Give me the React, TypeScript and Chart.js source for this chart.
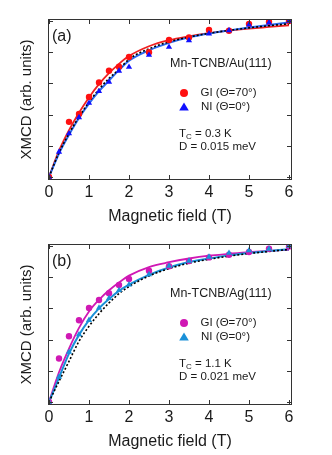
import React, { useEffect, useRef } from "react";
import { Chart, registerables } from "chart.js";
Chart.register(...registerables);

// ---------- data ----------
const X_TICKS = [0, 1, 2, 3, 4, 5, 6];
const Y_TICKS = [0, 0.2, 0.4, 0.6, 0.8, 1.0];

const FIT_X = [0, 0.25, 0.5, 0.75, 1, 1.25, 1.5, 1.75, 2, 2.5, 3, 3.5, 4, 4.5, 5, 5.5, 6];

// Panel (a): Mn-TCNB/Au(111)
const A_GI_X = [0, 0.5, 0.75, 1, 1.25, 1.5, 1.75, 2, 2.5, 3, 3.5, 4, 4.5, 5, 5.5, 6];
const A_GI_Y = [0, 0.353, 0.404, 0.513, 0.606, 0.681, 0.707, 0.769, 0.8, 0.878, 0.895, 0.942, 0.938, 0.982, 0.995, 1.0];
const A_NI_X = [0, 0.25, 0.5, 0.75, 1, 1.25, 1.5, 1.75, 2, 2.5, 3, 3.5, 4, 4.5, 5, 5.5, 6];
const A_NI_Y = [0, 0.16, 0.278, 0.382, 0.474, 0.549, 0.609, 0.68, 0.705, 0.782, 0.833, 0.876, 0.919, 0.94, 0.976, 0.99, 1.0];
const A_GI_FIT = [0, 0.168, 0.3, 0.412, 0.51, 0.595, 0.665, 0.725, 0.775, 0.838, 0.877, 0.902, 0.922, 0.938, 0.951, 0.962, 0.973];
const A_NI_FIT = [0, 0.15, 0.27, 0.378, 0.47, 0.55, 0.618, 0.685, 0.745, 0.812, 0.86, 0.895, 0.92, 0.94, 0.958, 0.975, 0.99];
const A_ISO_FIT = [0, 0.155, 0.278, 0.385, 0.48, 0.562, 0.632, 0.69, 0.755, 0.822, 0.866, 0.897, 0.921, 0.94, 0.956, 0.97, 0.982];

// Panel (b): Mn-TCNB/Ag(111)
const B_GI_X = [0, 0.25, 0.5, 0.75, 1, 1.25, 1.5, 1.75, 2, 2.5, 3, 3.5, 4, 4.5, 5, 5.5, 6];
const B_GI_Y = [0, 0.278, 0.421, 0.524, 0.603, 0.654, 0.697, 0.75, 0.788, 0.842, 0.87, 0.904, 0.927, 0.944, 0.962, 0.983, 0.996];
const B_NI_X = [0, 0.25, 0.5, 0.75, 1, 1.25, 1.5, 1.75, 2, 2.5, 3, 3.5, 4, 4.5, 5, 5.5, 6];
const B_NI_Y = [0, 0.16, 0.32, 0.432, 0.524, 0.603, 0.665, 0.716, 0.752, 0.818, 0.872, 0.905, 0.93, 0.955, 0.972, 0.982, 1.0];
const B_GI_FIT = [0, 0.19, 0.342, 0.475, 0.58, 0.655, 0.716, 0.766, 0.81, 0.865, 0.896, 0.92, 0.938, 0.95, 0.961, 0.969, 0.976];
const B_NI_FIT = [0, 0.155, 0.31, 0.43, 0.525, 0.6, 0.66, 0.712, 0.752, 0.815, 0.862, 0.897, 0.92, 0.94, 0.955, 0.968, 0.98];
const B_ISO_FIT = [0, 0.132, 0.26, 0.389, 0.485, 0.566, 0.635, 0.694, 0.74, 0.808, 0.855, 0.89, 0.915, 0.935, 0.952, 0.965, 0.978];

const FONT = "'Liberation Sans', Arial, Helvetica, sans-serif";
const TXT = "#1a1a1a";

const pts = (xs: number[], ys: number[]) => xs.map((x, i) => ({ x, y: ys[i] }));

type Panel = {
  label: string;
  sample: string;
  tc: string;
  d: string;
  giColor: string;
  giLine: string;
  niColor: string;
  niLine: string;
  gi: { x: number; y: number }[];
  ni: { x: number; y: number }[];
  giFit: { x: number; y: number }[];
  niFit: { x: number; y: number }[];
  isoFit: { x: number; y: number }[];
  dy: number;
};

const PANELS: Panel[] = [
  {
    label: "(a)",
    sample: "Mn-TCNB/Au(111)",
    tc: " = 0.3 K",
    d: "D = 0.015 meV",
    giColor: "#ff1010",
    giLine: "#f02020",
    niColor: "#1010ff",
    niLine: "#2a6af0",
    gi: pts(A_GI_X, A_GI_Y),
    ni: pts(A_NI_X, A_NI_Y),
    giFit: pts(FIT_X, A_GI_FIT),
    niFit: pts(FIT_X, A_NI_FIT),
    isoFit: pts(FIT_X, A_ISO_FIT),
    dy: 0,
  },
  {
    label: "(b)",
    sample: "Mn-TCNB/Ag(111)",
    tc: " = 1.1 K",
    d: "D = 0.021 meV",
    giColor: "#d018b4",
    giLine: "#d018b4",
    niColor: "#1a90d8",
    niLine: "#1a90d8",
    gi: pts(B_GI_X, B_GI_Y),
    ni: pts(B_NI_X, B_NI_Y),
    giFit: pts(FIT_X, B_GI_FIT),
    niFit: pts(FIT_X, B_NI_FIT),
    isoFit: pts(FIT_X, B_ISO_FIT),
    dy: 5,
  },
];

function makePlugin(p: Panel) {
  return {
    id: "frameAndText",
    afterDatasetsDraw(chart: any) {
      const { ctx, chartArea: a, scales } = chart;
      const x = scales.x;
      const y = scales.y;
      ctx.save();
      // frame
      ctx.strokeStyle = "#333";
      ctx.lineWidth = 1;
      ctx.strokeRect(a.left + 0.5, a.top + 0.5, a.right - a.left - 1, a.bottom - a.top - 1);
      // inward ticks on all four sides
      const L = 5;
      ctx.beginPath();
      for (const v of X_TICKS) {
        const px = Math.round(x.getPixelForValue(v)) + 0.5;
        ctx.moveTo(px, a.bottom);
        ctx.lineTo(px, a.bottom - L);
        ctx.moveTo(px, a.top);
        ctx.lineTo(px, a.top + L);
      }
      for (const v of Y_TICKS) {
        const py = Math.round(y.getPixelForValue(v)) + 0.5;
        ctx.moveTo(a.left, py);
        ctx.lineTo(a.left + L, py);
        ctx.moveTo(a.right, py);
        ctx.lineTo(a.right - L, py);
      }
      ctx.stroke();

      // texts
      ctx.fillStyle = TXT;
      ctx.textBaseline = "middle";
      ctx.textAlign = "left";
      ctx.font = `16px ${FONT}`;
      ctx.fillText(p.label, a.left + 4, a.top + 18);

      const dy = p.dy;
      ctx.font = `12.5px ${FONT}`;
      ctx.fillText(p.sample, a.left + 122, a.top + 44.5 + dy);

      ctx.font = `11.5px ${FONT}`;
      // legend
      const mx = a.left + 136;
      ctx.fillStyle = p.giColor;
      ctx.beginPath();
      ctx.arc(mx, a.top + 74 + dy, 4, 0, Math.PI * 2);
      ctx.fill();
      ctx.fillStyle = p.niColor;
      const ty = a.top + 88 + dy;
      ctx.beginPath();
      ctx.moveTo(mx, ty - 4.5);
      ctx.lineTo(mx + 4.8, ty + 3.5);
      ctx.lineTo(mx - 4.8, ty + 3.5);
      ctx.closePath();
      ctx.fill();
      ctx.fillStyle = TXT;
      ctx.fillText("GI (\u0398=70\u00b0)", a.left + 152.5, a.top + 74 + dy);
      ctx.fillText("NI (\u0398=0\u00b0)", a.left + 153, a.top + 88 + dy);

      // Tc and D
      const tx = a.left + 131;
      const tcy = a.top + 114.5 + dy;
      ctx.fillText("T", tx, tcy);
      const tw = ctx.measureText("T").width;
      ctx.font = `8px ${FONT}`;
      ctx.fillText("C", tx + tw, tcy + 3.5);
      const cw = ctx.measureText("C").width;
      ctx.font = `11.5px ${FONT}`;
      ctx.fillText(p.tc, tx + tw + cw, tcy);
      ctx.fillText(p.d, tx, a.top + 128 + dy);
      ctx.restore();
    },
  };
}

function PanelChart({ p, top }: { p: Panel; top: number }) {
  const ref = useRef<HTMLCanvasElement>(null);
  useEffect(() => {
    if (!ref.current) return;
    const chart = new Chart(ref.current, {
      type: "scatter",
      data: {
        datasets: [
          {
            data: p.ni,
            backgroundColor: p.niColor,
            borderColor: p.niColor,
            pointStyle: "triangle",
            pointRadius: 3.6,
            borderWidth: 0,
            showLine: false,
            order: 0,
          },
          {
            data: p.gi,
            backgroundColor: p.giColor,
            borderColor: p.giColor,
            pointStyle: "circle",
            pointRadius: 3.2,
            borderWidth: 0,
            showLine: false,
            order: 1,
          },
          {
            data: p.isoFit,
            borderColor: "#000",
            borderWidth: 1.6,
            borderDash: [2, 2],
            pointRadius: 0,
            showLine: true,
            cubicInterpolationMode: "monotone",
            order: 2,
          },
          {
            data: p.niFit,
            borderColor: p.niLine,
            borderWidth: 2,
            pointRadius: 0,
            showLine: true,
            cubicInterpolationMode: "monotone",
            order: 3,
          },
          {
            data: p.giFit,
            borderColor: p.giLine,
            borderWidth: 1.8,
            pointRadius: 0,
            showLine: true,
            cubicInterpolationMode: "monotone",
            order: 4,
          },
        ],
      },
      options: {
        animation: false,
        responsive: false,
        devicePixelRatio: 1,
        events: [],
        layout: { padding: { left: 0, top: 19, right: 40, bottom: 0 } },
        plugins: { legend: { display: false }, tooltip: { enabled: false } },
        scales: {
          x: {
            type: "linear",
            min: -0.025,
            max: 6.075,
            grid: { display: false, drawTicks: false },
            border: { display: false },
            afterBuildTicks: (s: any) => {
              s.ticks = X_TICKS.map((v) => ({ value: v }));
            },
            afterFit: (s: any) => {
              s.height = 45;
            },
            ticks: {
              color: TXT,
              padding: 3,
              maxRotation: 0,
              autoSkip: false,
              font: { family: FONT, size: 16, lineHeight: 1.2 },
              callback: (v: any) => String(v),
            },
            title: {
              display: true,
              text: "Magnetic field (T)",
              color: TXT,
              font: { family: FONT, size: 16, lineHeight: 1 },
              padding: { top: 0, bottom: 0 },
            },
          },
          y: {
            type: "linear",
            min: -0.02,
            max: 1.013,
            grid: { display: false, drawTicks: false },
            border: { display: false },
            afterBuildTicks: (s: any) => {
              s.ticks = Y_TICKS.map((v) => ({ value: v }));
            },
            afterFit: (s: any) => {
              s.width = 48;
            },
            ticks: { display: false },
            title: {
              display: true,
              text: "XMCD (arb. units)",
              color: TXT,
              font: { family: FONT, size: 15, lineHeight: 1 },
              padding: { top: 19.5, bottom: 0 },
            },
          },
        },
      },
      plugins: [makePlugin(p)],
    } as any);
    return () => chart.destroy();
  }, [p]);
  return (
    <div style={{ position: "absolute", left: 0, top, width: 332, height: 225 }}>
      <canvas ref={ref} width={332} height={225} style={{ width: 332, height: 225, display: "block" }} />
    </div>
  );
}

export default function App() {
  return (
    <div style={{ position: "absolute", left: 0, top: 0, width: 332, height: 455, background: "#fff" }}>
      <PanelChart p={PANELS[0]} top={0} />
      <PanelChart p={PANELS[1]} top={225} />
    </div>
  );
}
